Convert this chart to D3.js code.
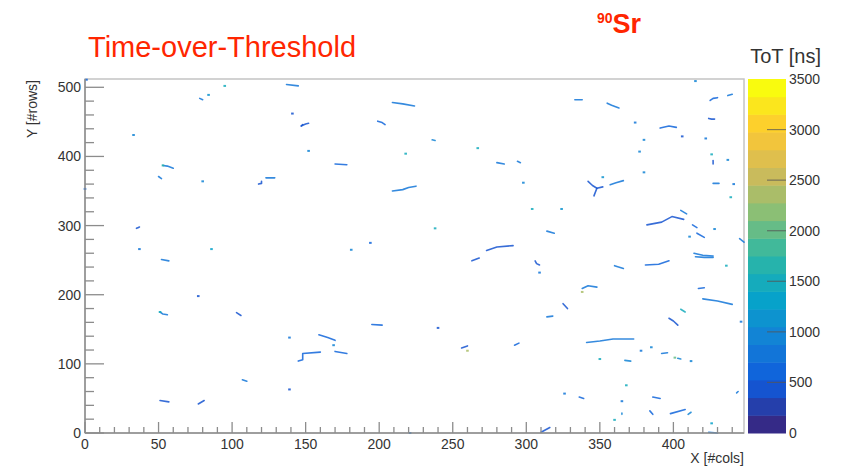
<!DOCTYPE html>
<html>
<head>
<meta charset="utf-8">
<script src="https://cdn.jsdelivr.net/npm/d3@7"></script>
<style>
  body { margin: 0; background: #fff; }
  svg { display: block; }
  text { font-family: "Liberation Sans", Arial, sans-serif; }
</style>
</head>
<body>
<svg id="chart" width="851" height="467"></svg>
<script>
// axis ticks
var xTicks = [0, 50, 100, 150, 200, 250, 300, 350, 400];
var yTicks = [0, 100, 200, 300, 400, 500];
var zTicks = [0, 500, 1000, 1500, 2000, 2500, 3000, 3500];
var nCols = 448, nRows = 512, totMax = 3500, nLevels = 20;

// kBird palette stops
var birdStops = [0, 0.125, 0.25, 0.375, 0.5, 0.625, 0.75, 0.875, 1];
var birdR = [0.2082, 0.0592, 0.0780, 0.0232, 0.1802, 0.5301, 0.8186, 0.9956, 0.9764];
var birdG = [0.1664, 0.3599, 0.5041, 0.6419, 0.7178, 0.7492, 0.7328, 0.7862, 0.9832];
var birdB = [0.5293, 0.8684, 0.8385, 0.7914, 0.6425, 0.4662, 0.3499, 0.1968, 0.0539];

// clusters: ToT [ns] and hit pixels [col, row]
var clusters = [
  {tot: 600, hits: [[1, 511]]},
  {tot: 1400, hits: [[95, 502]]},
  {tot: 700, hits: [[137, 504], [145, 502]]},
  {tot: 1200, hits: [[84, 489]]},
  {tot: 800, hits: [[78, 484], [80, 482]]},
  {tot: 500, hits: [[141, 462]]},
  {tot: 400, hits: [[147, 444], [148, 445], [150, 447], [152, 448]]},
  {tot: 400, hits: [[147, 444], [148, 446]]},
  {tot: 600, hits: [[199, 451], [202, 449], [204, 446]]},
  {tot: 700, hits: [[209, 478], [216, 476], [224, 473]]},
  {tot: 900, hits: [[33, 431]]},
  {tot: 900, hits: [[152, 408]]},
  {tot: 1500, hits: [[218, 404]]},
  {tot: 700, hits: [[53, 387], [56, 386], [60, 383]]},
  {tot: 1600, hits: [[53, 387]]},
  {tot: 600, hits: [[170, 389], [178, 388]]},
  {tot: 800, hits: [[50, 371], [52, 368]]},
  {tot: 1000, hits: [[80, 364]]},
  {tot: 500, hits: [[118, 360], [120, 361], [120, 364]]},
  {tot: 800, hits: [[123, 369], [129, 369]]},
  {tot: 700, hits: [[209, 350], [216, 352], [220, 355], [225, 357]]},
  {tot: 600, hits: [[0, 353]]},
  {tot: 400, hits: [[35, 296], [36, 297], [37, 298]]},
  {tot: 800, hits: [[37, 266]]},
  {tot: 1300, hits: [[86, 266]]},
  {tot: 600, hits: [[194, 275]]},
  {tot: 900, hits: [[181, 265]]},

  {tot: 1000, hits: [[415, 509]]},
  {tot: 800, hits: [[333, 482], [338, 482]]},
  {tot: 700, hits: [[355, 477], [358, 474], [363, 470]]},
  {tot: 600, hits: [[425, 481], [427, 484], [430, 485]]},
  {tot: 700, hits: [[437, 488], [440, 490]]},
  {tot: 800, hits: [[374, 449]]},
  {tot: 500, hits: [[424, 455], [426, 454], [428, 454]]},
  {tot: 600, hits: [[391, 441], [397, 444], [402, 442]]},
  {tot: 400, hits: [[406, 429]]},
  {tot: 800, hits: [[422, 426]]},
  {tot: 1000, hits: [[380, 424]]},
  {tot: 900, hits: [[236, 424], [238, 423]]},
  {tot: 1500, hits: [[267, 412]]},
  {tot: 900, hits: [[377, 407]]},
  {tot: 1500, hits: [[426, 403]]},
  {tot: 500, hits: [[427, 394], [427, 389]]},
  {tot: 1000, hits: [[437, 395]]},
  {tot: 700, hits: [[280, 391], [285, 389]]},
  {tot: 700, hits: [[294, 393], [296, 391]]},
  {tot: 900, hits: [[380, 377]]},
  {tot: 900, hits: [[298, 362]]},
  {tot: 400, hits: [[342, 364], [345, 358], [348, 354], [346, 343]]},
  {tot: 500, hits: [[348, 354], [352, 356]]},
  {tot: 1100, hits: [[352, 370]]},
  {tot: 700, hits: [[357, 359], [361, 362], [366, 365]]},
  {tot: 800, hits: [[427, 361], [431, 361]]},
  {tot: 800, hits: [[441, 360]]},
  {tot: 1400, hits: [[439, 341]]},
  {tot: 1500, hits: [[304, 324]]},
  {tot: 1200, hits: [[324, 324]]},
  {tot: 1500, hits: [[238, 296]]},
  {tot: 700, hits: [[314, 292], [319, 289]]},
  {tot: 500, hits: [[273, 264], [280, 269], [291, 271]]},
  {tot: 500, hits: [[382, 301], [392, 305], [399, 313], [407, 309]]},
  {tot: 800, hits: [[405, 322], [409, 317]]},
  {tot: 600, hits: [[413, 301], [416, 297]]},
  {tot: 900, hits: [[428, 295]]},
  {tot: 600, hits: [[416, 289], [421, 283]]},
  {tot: 1000, hits: [[411, 284]]},
  {tot: 800, hits: [[445, 281], [448, 276]]},
  {tot: 700, hits: [[414, 260], [420, 257], [427, 256]]},

  {tot: 800, hits: [[52, 251], [57, 249]]},
  {tot: 500, hits: [[77, 198]]},
  {tot: 800, hits: [[51, 175], [53, 172], [56, 171]]},
  {tot: 1500, hits: [[51, 175]]},
  {tot: 500, hits: [[103, 174], [106, 170]]},
  {tot: 800, hits: [[139, 138]]},
  {tot: 600, hits: [[159, 142], [165, 138], [170, 134]]},
  {tot: 900, hits: [[169, 127]]},
  {tot: 600, hits: [[195, 157], [202, 156]]},
  {tot: 600, hits: [[145, 104], [148, 106], [148, 115], [160, 117]]},
  {tot: 600, hits: [[170, 118], [178, 115]]},
  {tot: 800, hits: [[107, 77], [110, 75]]},
  {tot: 500, hits: [[139, 63]]},
  {tot: 500, hits: [[51, 47], [57, 45]]},
  {tot: 500, hits: [[77, 42], [81, 47]]},

  {tot: 500, hits: [[263, 249], [268, 253]]},
  {tot: 500, hits: [[306, 249], [307, 245], [309, 243]]},
  {tot: 800, hits: [[309, 232]]},
  {tot: 800, hits: [[360, 242], [366, 238]]},
  {tot: 600, hits: [[381, 243], [390, 244], [397, 249]]},
  {tot: 800, hits: [[415, 255], [421, 254], [427, 254]]},
  {tot: 1500, hits: [[436, 242]]},
  {tot: 700, hits: [[338, 209], [342, 213], [348, 211]]},
  {tot: 2400, hits: [[338, 204]]},
  {tot: 600, hits: [[417, 209], [421, 210]]},
  {tot: 700, hits: [[420, 194], [430, 191], [440, 186]]},
  {tot: 500, hits: [[325, 187], [328, 180]]},
  {tot: 1400, hits: [[405, 179], [408, 175]]},
  {tot: 800, hits: [[314, 168], [318, 169]]},
  {tot: 400, hits: [[397, 166], [400, 162], [403, 156]]},
  {tot: 700, hits: [[446, 161]]},
  {tot: 500, hits: [[240, 152]]},
  {tot: 700, hits: [[341, 131], [350, 133], [359, 136], [373, 136]]},
  {tot: 500, hits: [[256, 123], [260, 126]]},
  {tot: 2300, hits: [[260, 119]]},
  {tot: 600, hits: [[292, 127], [295, 130]]},
  {tot: 800, hits: [[378, 119]]},
  {tot: 1000, hits: [[385, 124]]},
  {tot: 800, hits: [[392, 115], [396, 116]]},
  {tot: 2000, hits: [[401, 109]]},
  {tot: 900, hits: [[403, 108], [405, 107]]},
  {tot: 1000, hits: [[412, 104]]},
  {tot: 1400, hits: [[350, 107]]},
  {tot: 900, hits: [[367, 105], [371, 104]]},
  {tot: 1500, hits: [[368, 69]]},
  {tot: 700, hits: [[326, 57]]},
  {tot: 600, hits: [[336, 52], [339, 50]]},
  {tot: 800, hits: [[365, 46]]},
  {tot: 600, hits: [[386, 52], [391, 50]]},
  {tot: 600, hits: [[384, 32], [386, 27]]},
  {tot: 600, hits: [[398, 28], [408, 34]]},
  {tot: 1000, hits: [[410, 27], [412, 30]]},
  {tot: 900, hits: [[365, 27], [365, 29]]},
  {tot: 1500, hits: [[360, 19]]},
  {tot: 800, hits: [[443, 58], [444, 60]]},
  {tot: 1300, hits: [[426, 14]]},
  {tot: 700, hits: [[424, 1], [430, 0]]},
  {tot: 500, hits: [[310, 1], [316, 8]]},
  {tot: 800, hits: [[221, 0]]}
];

var svg = d3.select("#chart");
var frame = {left: 85, right: 744, top: 79, bottom: 433};
var bar = {left: 748, right: 786};

var xScale = d3.scaleLinear().domain([0, nCols]).range([frame.left, frame.right]);
var yScale = d3.scaleLinear().domain([0, nRows]).range([frame.bottom, frame.top]);
var zScale = d3.scaleLinear().domain([0, totMax]).range([frame.bottom, frame.top]);

var birdInterp = function(t) {
  var r = d3.scaleLinear().domain(birdStops).range(birdR)(t);
  var g = d3.scaleLinear().domain(birdStops).range(birdG)(t);
  var b = d3.scaleLinear().domain(birdStops).range(birdB)(t);
  return d3.rgb(r * 255, g * 255, b * 255).formatHex();
};
var levelColor = function(tot) {
  var k = Math.min(nLevels - 1, Math.floor(tot / totMax * nLevels));
  return birdInterp(k / (nLevels - 1));
};

// frame
svg.append("rect")
  .attr("x", frame.left).attr("y", frame.top)
  .attr("width", frame.right - frame.left).attr("height", frame.bottom - frame.top)
  .attr("fill", "#fff").attr("stroke", "#c4c4c4").attr("stroke-width", 1.5);

// hits
var plot = svg.append("g");
var line = d3.line()
  .x(function(d) { return xScale(d[0]); })
  .y(function(d) { return yScale(d[1]); });

clusters.forEach(function(c) {
  if (c.hits.length > 1) {
    plot.append("path")
      .attr("d", line(c.hits))
      .attr("fill", "none")
      .attr("stroke", levelColor(c.tot))
      .attr("stroke-width", 1.6)
      .attr("stroke-linecap", "round")
      .attr("stroke-linejoin", "round")
      .attr("opacity", 0.85);
  } else {
    plot.append("rect")
      .attr("x", xScale(c.hits[0][0]) - 1.3)
      .attr("y", yScale(c.hits[0][1]) - 1)
      .attr("width", 2.6).attr("height", 2)
      .attr("fill", levelColor(c.tot))
      .attr("opacity", 0.85);
  }
});

// axes
var axisCol = "#8c8c8c";
var txtCol = "#333";
var ax = svg.append("g");

// y axis
ax.append("line").attr("x1", frame.left).attr("x2", frame.left)
  .attr("y1", frame.top).attr("y2", frame.bottom)
  .attr("stroke", axisCol).attr("stroke-width", 1.5);
d3.range(0, nRows + 1, 20).forEach(function(v) {
  var major = v % 100 === 0;
  ax.append("line")
    .attr("x1", frame.left).attr("x2", frame.left + (major ? 19 : 9))
    .attr("y1", yScale(v)).attr("y2", yScale(v))
    .attr("stroke", axisCol).attr("stroke-width", 1.3);
});
yTicks.forEach(function(v) {
  ax.append("text")
    .attr("x", frame.left - 4).attr("y", yScale(v) + 5)
    .attr("text-anchor", "end").attr("font-size", 14).attr("fill", txtCol)
    .text(v);
});

// x axis
ax.append("line").attr("x1", frame.left).attr("x2", frame.right)
  .attr("y1", frame.bottom).attr("y2", frame.bottom)
  .attr("stroke", axisCol).attr("stroke-width", 1.5);
d3.range(0, nCols + 1, 10).forEach(function(v) {
  var major = v % 50 === 0;
  ax.append("line")
    .attr("x1", xScale(v)).attr("x2", xScale(v))
    .attr("y1", frame.bottom).attr("y2", frame.bottom - (major ? 11 : 6))
    .attr("stroke", axisCol).attr("stroke-width", 1.3);
});
xTicks.forEach(function(v) {
  ax.append("text")
    .attr("x", xScale(v)).attr("y", frame.bottom + 16)
    .attr("text-anchor", "middle").attr("font-size", 14).attr("fill", txtCol)
    .text(v);
});

// axis titles
svg.append("text")
  .attr("transform", "translate(37," + (frame.top + 1) + ") rotate(-90)")
  .attr("text-anchor", "end").attr("font-size", 14).attr("fill", txtCol)
  .text("Y [#rows]");
svg.append("text")
  .attr("x", frame.right).attr("y", 463)
  .attr("text-anchor", "end").attr("font-size", 14).attr("fill", txtCol)
  .text("X [#cols]");

// colour bar
var cb = svg.append("g");
var step = totMax / nLevels;
d3.range(nLevels).forEach(function(k) {
  cb.append("rect")
    .attr("x", bar.left).attr("width", bar.right - bar.left)
    .attr("y", zScale((k + 1) * step)).attr("height", zScale(k * step) - zScale((k + 1) * step) + 0.5)
    .attr("fill", birdInterp(k / (nLevels - 1)));
});
zTicks.forEach(function(v) {
  if (v > 0 && v < totMax) {
    cb.append("line")
      .attr("x1", bar.right - 19).attr("x2", bar.right)
      .attr("y1", zScale(v)).attr("y2", zScale(v))
      .attr("stroke", "#555").attr("stroke-opacity", 0.7).attr("stroke-width", 1.2);
  }
  cb.append("text")
    .attr("x", bar.right + 3).attr("y", zScale(v) + 5)
    .attr("font-size", 14).attr("fill", txtCol)
    .text(v);
});
svg.append("text")
  .attr("x", 821).attr("y", 63)
  .attr("text-anchor", "end").attr("font-size", 20).attr("fill", txtCol)
  .text("ToT [ns]");

// titles
svg.append("text")
  .attr("x", 88).attr("y", 57)
  .attr("font-size", 29).attr("fill", "#ff2600")
  .text("Time-over-Threshold");
var iso = svg.append("text")
  .attr("x", 597).attr("y", 33)
  .attr("font-weight", "bold").attr("fill", "#ff2600");
iso.append("tspan").attr("font-size", 14).attr("dy", -10).text("90");
iso.append("tspan").attr("font-size", 27).attr("dy", 10).text("Sr");
</script>
</body>
</html>
